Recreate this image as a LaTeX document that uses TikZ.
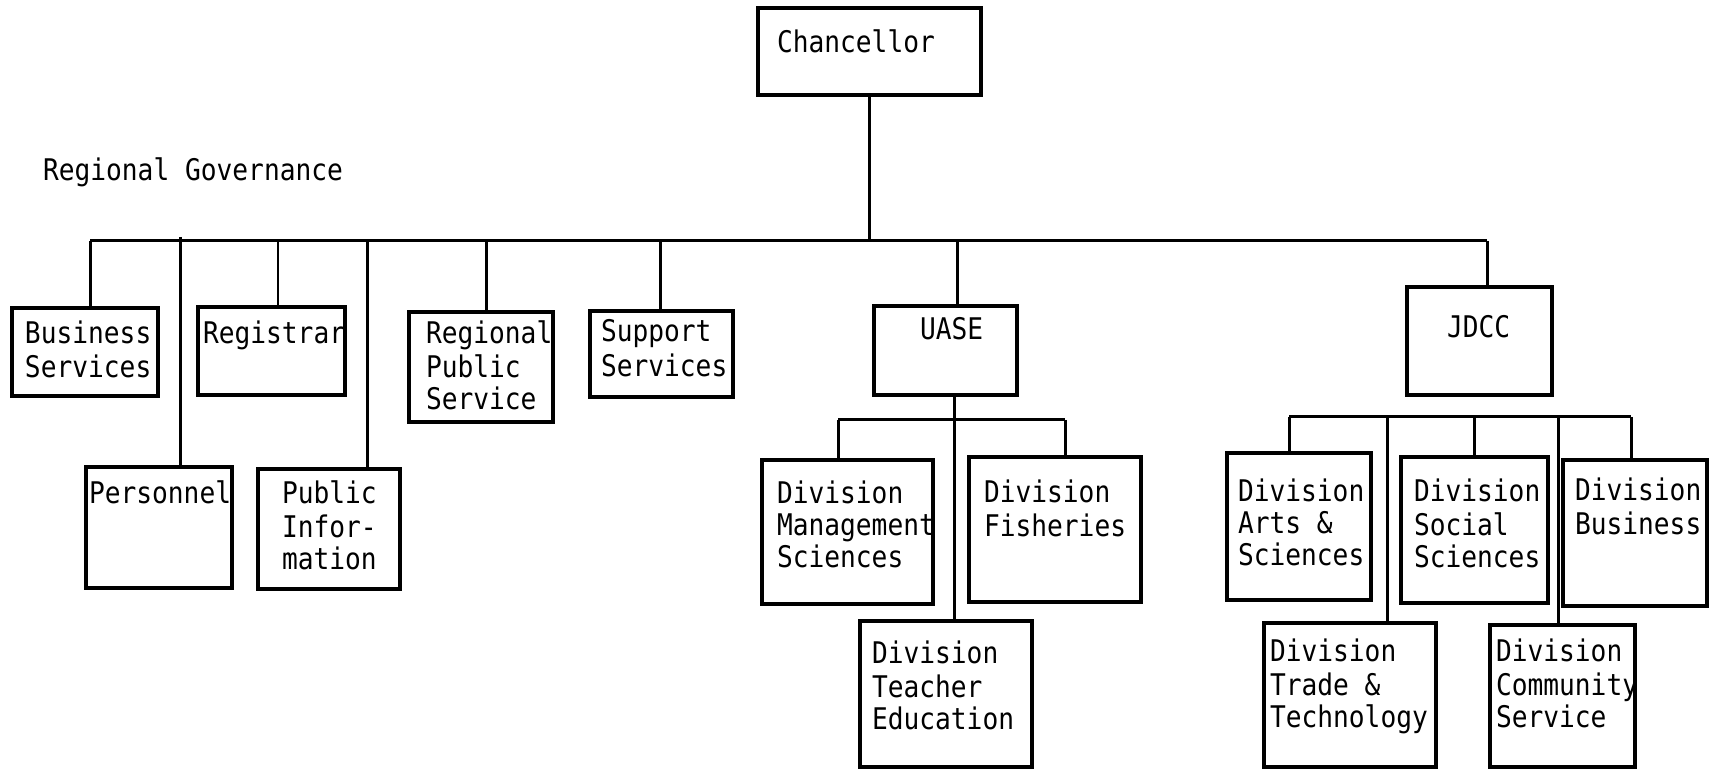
\documentclass[tikz,border=0pt]{standalone}
\usepackage{fontspec}
\usetikzlibrary{fit}
\newfontfamily\twfont[FakeStretch=0.88]{DejaVu Sans Mono}
\newcommand\btxt[4]{\node[txt,anchor=north west] (#1) at (#2,#3-22.6) {\strut #4};}
\newcommand\obox[5]{\node[boxst,fit={(#2,#3) (#4,#5)}] (#1) {};}
\tikzset{
  txt/.style={inner sep=0pt,outer sep=0pt,align=left,font=\twfont\fontsize{14.9}{16.1}\selectfont},
  boxst/.style={draw,line width=1.7pt,inner sep=0pt,outer sep=0pt},
  conn/.style={line width=1.5pt},
}
\begin{document}
\begin{tikzpicture}[x=0.5pt,y=-0.5pt]
\useasboundingbox (0,0) rectangle (1710,770);
\fill[white] (0,0) rectangle (1710,770);
% boxes
\obox{chan}{758}{8}{981}{95}
\obox{bs}{12}{308}{158}{396}
\obox{reg}{198}{307}{345}{395}
\obox{rps}{409}{312}{553}{422}
\obox{sup}{590}{311}{733}{397}
\obox{uase}{874}{306}{1017}{395}
\obox{jdcc}{1407}{287}{1552}{395}
\obox{pers}{86}{467}{232}{588}
\obox{pub}{258}{469}{400}{589}
\obox{mgmt}{762}{460}{933}{604}
\obox{fish}{969}{457}{1141}{602}
\obox{tedu}{860}{621}{1032}{767}
\obox{arts}{1227}{453}{1371}{600}
\obox{soc}{1401}{457}{1548}{603}
\obox{busd}{1563}{460}{1707}{606}
\obox{trade}{1264}{623}{1436}{767}
\obox{comm}{1490}{625}{1635}{767}
% texts
\btxt{t-chan}{777}{52}{Chancellor}
\btxt{t-rg}{43}{180}{Regional Governance}
\btxt{t-bs}{25}{343}{Business\\Services}
\btxt{t-reg}{203}{343}{Registrar}
\btxt{t-rps}{426}{343}{Regional\\Public\\Service}
\btxt{t-sup}{601}{342}{Support\\Services}
\btxt{t-uase}{920}{340}{UASE}
\btxt{t-jdcc}{1447}{338}{JDCC}
\btxt{t-pers}{89}{503}{Personnel}
\btxt{t-pub}{282}{503}{Public\\Infor-\\mation}
\btxt{t-mgmt}{777}{503}{Division\\Management\\Sciences}
\btxt{t-fish}{984}{502}{Division\\Fisheries}
\btxt{t-tedu}{872}{663}{Division\\Teacher\\Education}
\btxt{t-arts}{1238}{501}{Division\\Arts \&\\Sciences}
\btxt{t-soc}{1414}{501}{Division\\Social\\Sciences}
\btxt{t-busd}{1575}{500}{Division\\Business}
\btxt{t-trade}{1270}{661}{Division\\Trade \&\\Technology}
\btxt{t-comm}{1496}{661}{Division\\Community\\Service}
% main bus
\coordinate (bl) at (90,241);
\coordinate (br) at (1487,241);
\coordinate (dchan) at (chan.south |- bl);
\draw[conn] (chan.south) -- (dchan);
\draw[conn] (bl) -- (br);
\coordinate (d1) at (90,241);
\coordinate (d2) at (180,237);
\coordinate (d3) at (278,241);
\coordinate (d4) at (367,241);
\coordinate (d5) at (486,241);
\coordinate (d6) at (660,241);
\coordinate (d7) at (957,241);
\coordinate (d8) at (1487,241);
\draw[conn] (d1) -- (d1 |- bs.north);
\draw[conn] (d2) -- (d2 |- pers.north);
\draw[line width=1.1pt] (d3) -- (d3 |- reg.north);
\draw[conn] (d4) -- (d4 |- pub.north);
\draw[conn] (d5) -- (d5 |- rps.north);
\draw[conn] (d6) -- (d6 |- sup.north);
\draw[conn] (d7) -- (d7 |- uase.north);
\draw[conn] (d8) -- (d8 |- jdcc.north);
% UASE subtree
\coordinate (ul) at (838,420);
\coordinate (ur) at (1065,420);
\coordinate (ux) at (954,420);
\draw[conn] (ul) -- (ur);
\draw[conn] (ux |- uase.south) -- (ux |- tedu.north);
\draw[conn] (ul) -- (ul |- mgmt.north);
\draw[conn] (ur) -- (ur |- fish.north);
% JDCC subtree
\coordinate (jl) at (1289,417);
\coordinate (jr) at (1631,417);
\coordinate (j2) at (1387,417);
\coordinate (j3) at (1474,417);
\coordinate (j4) at (1558,417);
\draw[conn] (jl) -- (jr);
\draw[conn] (jl) -- (jl |- arts.north);
\draw[conn] (j2) -- (j2 |- trade.north);
\draw[conn] (j3) -- (j3 |- soc.north);
\draw[conn] (j4) -- (j4 |- comm.north);
\draw[conn] (jr) -- (jr |- busd.north);
\end{tikzpicture}
\end{document}
